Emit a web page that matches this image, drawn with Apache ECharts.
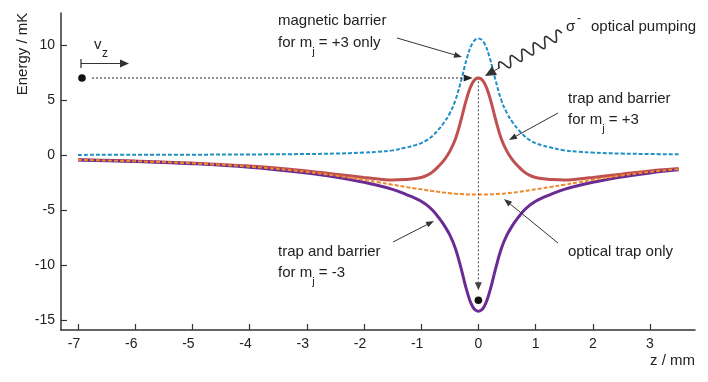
<!DOCTYPE html>
<html>
<head>
<meta charset="utf-8">
<script src="https://cdn.jsdelivr.net/npm/echarts@6/dist/echarts.min.js"></script>
<style>
  html, body { margin: 0; padding: 0; background: #fff; }
  #chart { width: 708px; height: 382px; }
</style>
</head>
<body>
<div id="chart"></div>
<script>
// Energy landscape: magnetic barrier, optical trap, and combined potentials

const zValues = [-7, -6, -5, -4, -3, -2.5, -2, -1.75, -1.5, -1.25, -1.1, -1, -0.9, -0.8, -0.7, -0.6, -0.5, -0.4, -0.3, -0.2, -0.1,
  0, 0.1, 0.2, 0.3, 0.4, 0.5, 0.6, 0.7, 0.8, 0.9, 1, 1.1, 1.25, 1.5, 1.75, 2, 2.5, 3, 3.5];

const barrierOnly = [0.01, 0.02, 0.03, 0.05, 0.09, 0.13, 0.22, 0.3, 0.42, 0.7, 0.9, 1.08, 1.35, 1.75, 2.3, 2.95, 3.8, 5.0, 6.8, 8.8, 10.2,
  10.6, 10.2, 8.8, 6.8, 5.0, 3.8, 2.95, 2.3, 1.75, 1.35, 1.08, 0.9, 0.7, 0.42, 0.3, 0.22, 0.13, 0.09, 0.06];

const opticalOnly = [-0.44, -0.57, -0.76, -1.06, -1.54, -1.87, -2.26, -2.48, -2.70, -2.92, -3.04, -3.12, -3.20, -3.28, -3.35, -3.42, -3.47, -3.52, -3.55, -3.58, -3.60,
  -3.60, -3.60, -3.58, -3.55, -3.52, -3.47, -3.42, -3.35, -3.28, -3.20, -3.12, -3.04, -2.92, -2.70, -2.48, -2.26, -1.87, -1.54, -1.29];

const trapPlus3 = [-0.43, -0.55, -0.73, -1.01, -1.45, -1.74, -2.04, -2.18, -2.28, -2.22, -2.14, -2.04, -1.85, -1.53, -1.05, -0.47, 0.33, 1.48, 3.25, 5.22, 6.60,
  7.00, 6.60, 5.22, 3.25, 1.48, 0.33, -0.47, -1.05, -1.53, -1.85, -2.04, -2.14, -2.22, -2.28, -2.18, -2.04, -1.74, -1.45, -1.23];

const trapMinus3 = [-0.45, -0.59, -0.79, -1.11, -1.63, -2.00, -2.48, -2.78, -3.12, -3.62, -3.94, -4.20, -4.55, -5.03, -5.65, -6.37, -7.27, -8.52, -10.35, -12.38, -13.80,
  -14.20, -13.80, -12.38, -10.35, -8.52, -7.27, -6.37, -5.65, -5.03, -4.55, -4.20, -3.94, -3.62, -3.12, -2.78, -2.48, -2.00, -1.63, -1.35];

const xTicks = [-7, -6, -5, -4, -3, -2, -1, 0, 1, 2, 3];
const yTicks = [-15, -10, -5, 0, 5, 10];

const pair = (vals) => zValues.map((z, i) => [z, vals[i]]);

const dom = document.getElementById('chart');
const chart = echarts.init(dom);

const FONT = '"Liberation Sans", Arial, sans-serif';
const INK = '#222';

chart.setOption({
  animation: false,
  grid: { left: 61, right: 13, top: 13, bottom: 52 },
  xAxis: {
    type: 'value',
    min: -7.297,
    max: 3.787,
    splitLine: { show: false },
    axisLine: { onZero: false, lineStyle: { color: '#333', width: 1.5 } },
    axisTick: { inside: true, length: 6, customValues: xTicks, lineStyle: { color: '#333', width: 1.2 } },
    axisLabel: {
      customValues: xTicks,
      margin: 7,
      fontFamily: FONT,
      fontSize: 14,
      color: INK,
      formatter: v => v < 0 ? '{n|' + v + '}' : String(v),
      rich: { n: { fontFamily: FONT, fontSize: 14, color: INK, padding: [0, 8, 0, 0] } }
    }
  },
  yAxis: {
    type: 'value',
    min: -15.91,
    max: 12.91,
    splitLine: { show: false },
    axisLine: { onZero: false, lineStyle: { color: '#333', width: 1.5 } },
    axisTick: { inside: true, length: 6, customValues: yTicks, lineStyle: { color: '#333', width: 1.2 } },
    axisLabel: { customValues: yTicks, margin: 6, fontFamily: FONT, fontSize: 14, color: INK }
  },
  series: [
    {
      name: 'trap and barrier mj=+3', type: 'line', data: pair(trapPlus3),
      smooth: 0.4, showSymbol: false, z: 2,
      lineStyle: { color: '#c0504f', width: 3 }
    },
    {
      name: 'trap and barrier mj=-3', type: 'line', data: pair(trapMinus3),
      smooth: 0.4, showSymbol: false, z: 2,
      lineStyle: { color: '#6a2c94', width: 3 }
    },
    {
      name: 'optical trap only', type: 'line', data: pair(opticalOnly),
      smooth: 0.4, showSymbol: false, z: 3,
      lineStyle: { color: '#f0882a', width: 2, type: [4, 2] }
    },
    {
      name: 'magnetic barrier', type: 'line', data: pair(barrierOnly),
      smooth: 0.4, showSymbol: false, z: 3,
      lineStyle: { color: '#1f8fc6', width: 2, type: [4, 2] }
    }
  ]
});

// annotations
function arrow(x1, y1, x2, y2, opt) {
  const dx = x2 - x1, dy = y2 - y1;
  const len = Math.hypot(dx, dy);
  const ux = dx / len, uy = dy / len;
  const hl = opt.head || 8, hw = opt.hw || 3;
  const bx = x2 - ux * hl, by = y2 - uy * hl;
  return [
    { type: 'line', silent: true, z: 10, shape: { x1: x1, y1: y1, x2: bx, y2: by },
      style: { stroke: opt.color || '#333', lineWidth: opt.lw || 1, lineDash: opt.dash || null } },
    { type: 'polygon', silent: true, z: 10,
      shape: { points: [[x2, y2], [bx - uy * hw, by + ux * hw], [bx + uy * hw, by - ux * hw]] },
      style: { fill: opt.color || '#333' } }
  ];
}

function label(x, y, text, size, extra) {
  return Object.assign({
    type: 'text', silent: true, z: 10, x: x, y: y,
    style: {
      text: text, fontFamily: FONT, fontSize: size || 15, fill: INK,
      align: 'left', verticalAlign: 'middle'
    }
  }, extra || {});
}

function richLabel(x, y, text) {
  return {
    type: 'text', silent: true, z: 10, x: x, y: y,
    style: {
      text: text, fontFamily: FONT, fontSize: 15, fill: INK,
      align: 'left', verticalAlign: 'middle',
      rich: {
        a: { fontFamily: FONT, fontSize: 15, fill: INK, lineHeight: 28, verticalAlign: 'middle' },
        s: { fontFamily: FONT, fontSize: 11, fill: INK, lineHeight: 28, verticalAlign: 'bottom' }
      }
    }
  };
}

function wave(x0, y0, x1, y1, n, amp) {
  const dx = x1 - x0, dy = y1 - y0;
  const len = Math.hypot(dx, dy);
  const nx = -dy / len, ny = dx / len;
  const pts = [];
  for (let i = 0; i <= 160; i++) {
    const t = i / 160;
    const s = amp * Math.sin(2 * Math.PI * n * t);
    pts.push([x0 + dx * t + nx * s, y0 + dy * t + ny * s]);
  }
  return { type: 'polyline', silent: true, z: 10, shape: { points: pts },
    style: { stroke: '#333', lineWidth: 1.6, fill: null } };
}

const px = (z, v) => chart.convertToPixel({ gridIndex: 0 }, [z, v]);

const dotStart = px(-6.93, 7.0);
const hEnd = px(-0.1, 7.0);
const vStart = px(0, 6.7);
const vEnd = px(0, -12.3);
const dotEnd = px(0, -13.2);

const graphics = [].concat(
  // guide dots and dotted arrows
  [{ type: 'circle', silent: true, z: 10, shape: { cx: dotStart[0], cy: dotStart[1], r: 3.8 }, style: { fill: '#111' } },
   { type: 'circle', silent: true, z: 10, shape: { cx: dotEnd[0], cy: dotEnd[1], r: 3.8 }, style: { fill: '#111' } }],
  arrow(dotStart[0] + 10, dotStart[1], hEnd[0], hEnd[1], { dash: [2, 2], head: 9, hw: 3.5, color: '#222' }),
  arrow(vStart[0], vStart[1], vEnd[0], vEnd[1], { dash: [2, 2], head: 8, hw: 3.5, color: '#444' }),
  // velocity arrow
  [{ type: 'line', silent: true, z: 10, shape: { x1: 81, y1: 59, x2: 81, y2: 68 }, style: { stroke: '#555', lineWidth: 1.5 } }],
  arrow(81, 63.5, 129, 63.5, { head: 9, hw: 4, color: '#333', lw: 1.2 }),
  [label(94, 45, 'v', 15), label(102, 54, 'z', 12)],
  // label arrows
  arrow(397, 38, 462, 57, { head: 8, hw: 3 }),
  arrow(558, 113, 509, 140, { head: 8, hw: 3 }),
  arrow(558, 243, 504, 199, { head: 8, hw: 3 }),
  arrow(393, 242, 434, 221, { head: 8, hw: 3 }),
  // optical pumping
  [wave(562, 33, 499, 68, 5.5, 5)],
  arrow(500, 67.5, 485, 76, { head: 11, hw: 5 }),
  [label(566, 27, 'σ', 15), label(577, 19, '-', 12), label(591, 27, 'optical pumping', 15)],
  // text labels
  [label(278, 21, 'magnetic barrier'),
   richLabel(278, 43, '{a|for m}{s|j}{a| = +3 only}'),
   label(568, 99, 'trap and barrier'),
   richLabel(568, 120, '{a|for m}{s|j}{a| = +3}'),
   label(568, 252, 'optical trap only'),
   label(278, 252, 'trap and barrier'),
   richLabel(278, 273, '{a|for m}{s|j}{a| = -3}')],
  // axis titles
  [label(23, 54, 'Energy / mK', 15, { rotation: Math.PI / 2, style: { text: 'Energy / mK', fontFamily: FONT, fontSize: 15, fill: INK, align: 'center', verticalAlign: 'middle' } }),
   label(695, 361, 'z / mm', 15, { style: { text: 'z / mm', fontFamily: FONT, fontSize: 15, fill: INK, align: 'right', verticalAlign: 'middle' } })]
);

chart.setOption({ graphic: graphics });
</script>
</body>
</html>
